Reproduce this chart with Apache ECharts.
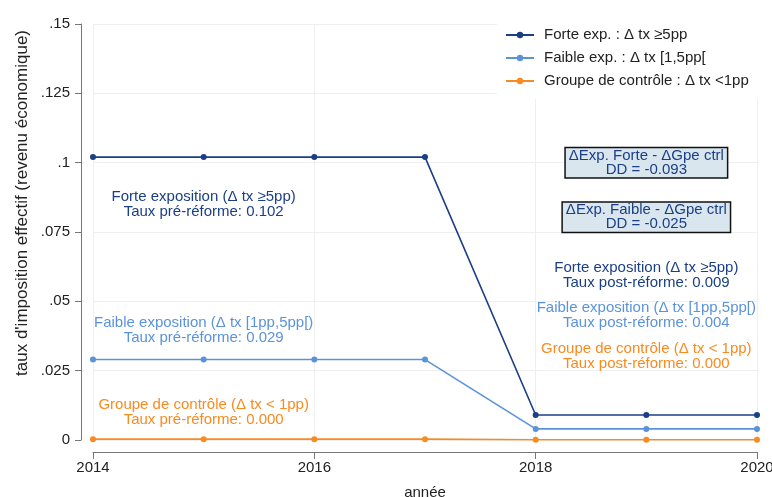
<!DOCTYPE html>
<html><head><meta charset="utf-8">
<script src="https://cdn.jsdelivr.net/npm/echarts@6/dist/echarts.min.js"></script>
<style>html,body{margin:0;padding:0;background:#fff}#c{width:772px;height:497px}</style>
</head><body><div id="c"></div>
<script>
const years = [2014, 2015, 2016, 2017, 2018, 2019, 2020];
const forte = [0.102, 0.102, 0.102, 0.102, 0.009, 0.009, 0.009];
const faible = [0.029, 0.029, 0.029, 0.029, 0.004, 0.004, 0.004];
const controle = [0.0003, 0.0003, 0.0003, 0.0003, 0.0001, 0.0001, 0.0001];
const seriesNames = ['Forte exp. : \u0394 tx \u22655pp', 'Faible exp. : \u0394 tx [1,5pp[', 'Groupe de contr\u00f4le : \u0394 tx <1pp'];
const yTickLabels = ['0', '.025', '.05', '.075', '.1', '.125', '.15'];
const xTickLabels = ['2014', '2016', '2018', '2020'];

const C_FORTE = '#1b3f86', C_FAIBLE = '#5b93db', C_CTRL = '#f98a1f';
const FONT = 'Liberation Sans, Arial, sans-serif';

function pairs(v){ return years.map((y,i)=>[y, v[i]]); }
function note(coord, text, color){
  return {coord: coord, symbol:'circle', symbolSize:1, itemStyle:{color:'rgba(0,0,0,0)'},
    label:{show:true, position:'inside', formatter:text, color:color, fontSize:15, lineHeight:15,
      fontFamily:FONT, align:'center', verticalAlign:'middle'}};
}
function box(coord, text){
  return {coord: coord, symbol:'circle', symbolSize:1, itemStyle:{color:'rgba(0,0,0,0)'},
    label:{show:true, position:'inside', formatter:text, color:'#1b3f86', fontSize:15, lineHeight:14,
      fontFamily:FONT, align:'center', verticalAlign:'middle', backgroundColor:'#d9e6ee',
      borderColor:'#111', borderWidth:1.5, padding:[1,3,0,3]}};
}

const chart = echarts.init(document.getElementById('c'), null, {renderer:'canvas'});
chart.setOption({
  animation:false,
  grid:{left:93, right:15, top:24, bottom:57, containLabel:false, outerBoundsMode:'none'},
  xAxis:{type:'value', min:2014, max:2020, interval:2, offset:12,
    name:'ann\u00e9e', nameLocation:'middle', nameGap:33,
    nameTextStyle:{fontSize:15, color:'#222', fontFamily:FONT},
    axisLine:{show:true, onZero:false, lineStyle:{color:'#777', width:1}},
    axisTick:{show:true, length:7, lineStyle:{color:'#777'}},
    axisLabel:{fontSize:15, color:'#222', fontFamily:FONT, margin:8,
      formatter:(v)=>{const i=Math.round((v-2014)/2); return xTickLabels[i]!==undefined?xTickLabels[i]:'';}},
    splitLine:{show:true, lineStyle:{color:'#efefef', width:1}}},
  yAxis:{type:'value', min:0, max:0.15, interval:0.025, offset:12,
    axisLine:{show:true, onZero:false, lineStyle:{color:'#777', width:1}},
    axisTick:{show:true, length:6, lineStyle:{color:'#777'}},
    axisLabel:{fontSize:15, color:'#222', fontFamily:FONT, margin:11,
      formatter:(v)=>{const i=Math.round(v/0.025); return yTickLabels[i]!==undefined?yTickLabels[i]:'';}},
    splitLine:{show:true, lineStyle:{color:'#efefef', width:1}}},
  legend:{show:true, orient:'vertical', left:497, top:20, padding:[6,16,9,8], itemGap:5,
    itemWidth:28, itemHeight:8, backgroundColor:'#fff', data:seriesNames,
    textStyle:{fontSize:15, color:'#222', fontFamily:FONT, lineHeight:18, padding:[0,0,0,5]}},
  graphic:[{type:'text', left:14, top:30, rotation:Math.PI/2,
    style:{text:"taux d'imposition effectif (revenu \u00e9conomique)", fill:'#222', font:'17px '+FONT}}],
  series:[
    {name:seriesNames[0], type:'line', data:pairs(forte), color:C_FORTE, symbol:'circle', symbolSize:6,
      lineStyle:{width:1.6}, z:3,
      markPoint:{data:[
        note([2015, 0.0851], 'Forte exposition (\u0394 tx \u22655pp)\nTaux pr\u00e9-r\u00e9forme: 0.102', C_FORTE),
        note([2019, 0.0595], 'Forte exposition (\u0394 tx \u22655pp)\nTaux post-r\u00e9forme: 0.009', C_FORTE),
        box([2019, 0.1], '\u0394Exp. Forte - \u0394Gpe ctrl\nDD = -0.093'),
        box([2019, 0.0803], '\u0394Exp. Faible - \u0394Gpe ctrl\nDD = -0.025')
      ]}},
    {name:seriesNames[1], type:'line', data:pairs(faible), color:C_FAIBLE, symbol:'circle', symbolSize:6,
      lineStyle:{width:1.6}, z:3,
      markPoint:{data:[
        note([2015, 0.0397], 'Faible exposition (\u0394 tx [1pp,5pp[)\nTaux pr\u00e9-r\u00e9forme: 0.029', C_FAIBLE),
        note([2019, 0.0451], 'Faible exposition (\u0394 tx [1pp,5pp[)\nTaux post-r\u00e9forme: 0.004', C_FAIBLE)
      ]}},
    {name:seriesNames[2], type:'line', data:pairs(controle), color:C_CTRL, symbol:'circle', symbolSize:6,
      lineStyle:{width:1.6}, z:3,
      markPoint:{data:[
        note([2015, 0.0101], 'Groupe de contr\u00f4le (\u0394 tx < 1pp)\nTaux pr\u00e9-r\u00e9forme: 0.000', C_CTRL),
        note([2019, 0.0300], 'Groupe de contr\u00f4le (\u0394 tx < 1pp)\nTaux post-r\u00e9forme: 0.000', C_CTRL)
      ]}}
  ]
});
</script></body></html>
